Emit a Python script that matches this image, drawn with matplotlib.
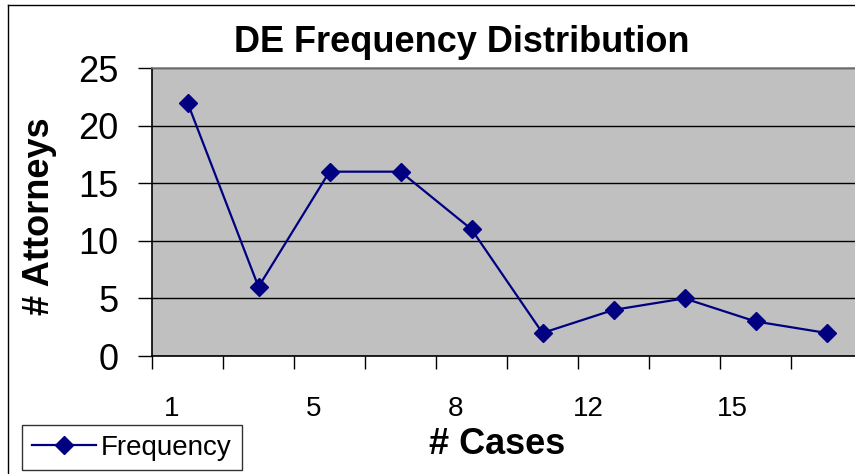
import matplotlib
matplotlib.use("Agg")
import matplotlib.pyplot as plt
from matplotlib.lines import Line2D

# === Data ===
frequency = [22, 6, 16, 16, 11, 2, 4, 5, 3, 2]
category_pos = list(range(1, len(frequency) + 1))
tick_labels = ["1", "5", "8", "12", "15"]
tick_label_pos = [0.78, 2.78, 4.77, 6.65, 8.68]
y_ticks = [0, 5, 10, 15, 20, 25]

plt.rcParams["font.family"] = ["Liberation Sans", "DejaVu Sans"]

W, H = 855, 474
fig = plt.figure(figsize=(W / 100, H / 100), dpi=100)

# plot area runs past the right edge, like the cropped original
ax = fig.add_axes([152 / W, 1 - 356 / H, 710 / W, 288 / H])
ax.set_facecolor("#c0c0c0")

ax.plot(category_pos, frequency, color="#000080", lw=1.6,
        marker="D", markersize=9.5, markerfacecolor="#000080",
        markeredgecolor="#000080", label="Frequency", clip_on=False, zorder=3)

ax.set_xlim(0.5, 10.5)
ax.set_ylim(0, 25)

# y axis
ax.set_yticks(y_ticks)
ax.tick_params(axis="y", which="major", direction="out", length=10,
               width=1, color="black", labelsize=26, pad=14)
ax.yaxis.grid(True, color="black", lw=1)
ax.set_axisbelow(True)

# x axis: ticks at category boundaries, labels on every other category
ax.set_xticks([i + 0.5 for i in range(0, 10)])
ax.set_xticklabels([])
ax.tick_params(axis="x", which="major", direction="out", length=9,
               width=1, color="black")
ax.set_xticks(tick_label_pos, minor=True)
ax.set_xticklabels(tick_labels, minor=True)
ax.tick_params(axis="x", which="minor", length=0, labelsize=20, pad=29)

for side in ["left", "bottom"]:
    ax.spines[side].set_color("black")
    ax.spines[side].set_linewidth(1.2)
for side in ["top", "right"]:
    ax.spines[side].set_color("#808080")
    ax.spines[side].set_linewidth(1.2)

fig.text(462 / W, 1 - 43 / H, "DE Frequency Distribution", fontsize=26,
         fontweight="bold", ha="center", va="center")
fig.text(40 / W, 1 - 216 / H, "# Attorneys", fontsize=26, fontweight="bold",
         rotation=90, ha="center", va="center")
fig.text(497 / W, 1 - 445 / H, "# Cases", fontsize=26, fontweight="bold",
         ha="center", va="center")

leg = fig.legend(loc="upper left", bbox_to_anchor=(22 / W, 1 - 425 / H),
                 borderaxespad=0, fontsize=20, frameon=True, fancybox=False,
                 handlelength=2.3, handletextpad=0.2, borderpad=0.35)
leg.get_frame().set_edgecolor("black")
leg.get_frame().set_linewidth(1)

# outer chart border
fig.add_artist(Line2D([8 / W, 8 / W], [0, 1 - 5 / H], color="black", lw=1,
                      transform=fig.transFigure))
fig.add_artist(Line2D([8 / W, 1], [1 - 5 / H, 1 - 5 / H], color="black", lw=1,
                      transform=fig.transFigure))

fig.savefig("out.png", dpi=100)
